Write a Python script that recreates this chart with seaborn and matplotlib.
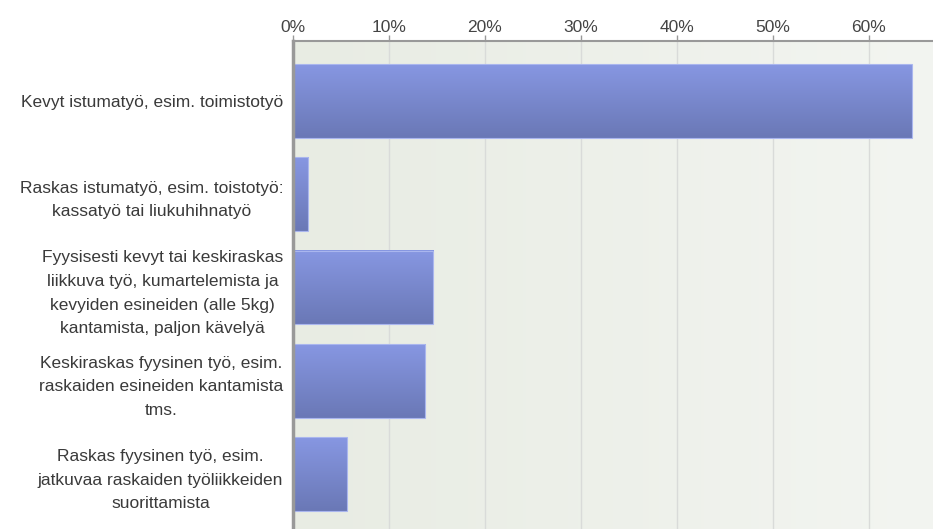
import numpy as np
import pandas as pd
import matplotlib
matplotlib.use("Agg")
import matplotlib.pyplot as plt
import seaborn as sns
from matplotlib.colors import LinearSegmentedColormap

categories = [
    "Kevyt istumatyö, esim. toimistotyö",
    "Raskas istumatyö, esim. toistotyö:\nkassatyö tai liukuhihnatyö",
    "Fyysisesti kevyt tai keskiraskas\nliikkuva työ, kumartelemista ja\nkevyiden esineiden (alle 5kg)\nkantamista, paljon kävelyä",
    "Keskiraskas fyysinen työ, esim.\nraskaiden esineiden kantamista\ntms.",
    "Raskas fyysinen työ, esim.\njatkuvaa raskaiden työliikkeiden\nsuorittamista",
]
shares = [64.5, 1.6, 14.6, 13.8, 5.6]
tick_values = [0, 10, 20, 30, 40, 50, 60]
tick_labels = ["0%", "10%", "20%", "30%", "40%", "50%", "60%"]

df = pd.DataFrame({"category": categories, "share": shares})

sns.set_theme(style="white")
plt.rcParams["font.family"] = ["Liberation Sans", "DejaVu Sans"]

fig = plt.figure(figsize=(9.33, 5.29), dpi=100)
ax = fig.add_axes([0.314, 0.0, 0.686, 0.9225])

sns.barplot(data=df, y="category", x="share", orient="h", width=0.79,
            color="#7d8cd6", ax=ax, zorder=3)

xmax = 66.7
ax.set_xlim(0, xmax)
ax.set_ylim(4.587, -0.643)

# plot-area background: soft grey-green, lightening to the right
bg = LinearSegmentedColormap.from_list("bg", ["#e8ece3", "#f3f5f1"])
ax.imshow(np.linspace(0, 1, 256).reshape(1, -1), cmap=bg, aspect="auto",
          extent=[0, xmax, 4.587, -0.643], zorder=0)

# vertical gradient inside each bar
bar_cmap = LinearSegmentedColormap.from_list("bar", ["#8797e2", "#6a78b6"])
grad = np.linspace(0, 1, 128).reshape(-1, 1)
for patch in list(ax.patches):
    x0, y0 = patch.get_x(), patch.get_y()
    w, h = patch.get_width(), patch.get_height()
    patch.set_facecolor("none")
    patch.set_edgecolor("#aab6ee")
    patch.set_linewidth(0.8)
    patch.set_zorder(4)
    ax.imshow(grad, cmap=bar_cmap, aspect="auto",
              extent=[x0, x0 + w, y0 + h, y0], zorder=3)

ax.set_xlim(0, xmax)
ax.set_ylim(4.587, -0.643)

ax.xaxis.tick_top()
ax.xaxis.set_label_position("top")
ax.set_xticks(tick_values)
ax.set_xticklabels(tick_labels, fontsize=12.5, color="#444444")
ax.tick_params(axis="x", direction="out", length=4, width=1, color="#999999",
               pad=0.5, bottom=False, top=True)
ax.tick_params(axis="y", length=0, pad=7)
for lbl in ax.get_yticklabels():
    lbl.set_multialignment("center")
    lbl.set_fontsize(12.5)
    lbl.set_color("#3a3a3a")
    lbl.set_linespacing(1.72)

for v in tick_values[1:]:
    ax.axvline(v, color="#d9dbd9", linewidth=1, zorder=1)

ax.set_xlabel("")
ax.set_ylabel("")
for side in ["right", "bottom"]:
    ax.spines[side].set_visible(False)
ax.spines["top"].set_color("#999999")
ax.spines["top"].set_linewidth(1.5)
ax.spines["left"].set_color("#999999")
ax.spines["left"].set_linewidth(2.5)
ax.spines["top"].set_zorder(6)
ax.spines["left"].set_zorder(6)

fig.savefig("out.png", dpi=100, facecolor="white")
